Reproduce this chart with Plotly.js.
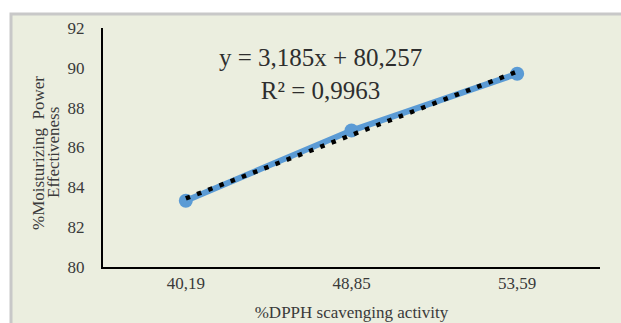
<!DOCTYPE html>
<html>
<head>
<meta charset="utf-8">
<script src="https://cdn.plot.ly/plotly-3.0.1.min.js"></script>
<style>html,body{margin:0;padding:0;background:#fff;}#chart{width:621px;height:323px;}</style>
</head>
<body>
<div id="chart"></div>
<script>
// Data
const categories = ["40,19", "48,85", "53,59"];
const moisturizing = [83.33, 86.85, 89.70];
const trendSlope = 3.185;
const trendIntercept = 80.257;
const trendR2 = 0.9963;
const yTicks = [80, 82, 84, 86, 88, 90, 92];

const fmt = (v, d) => v.toFixed(d).replace('.', ',');
const trendY = categories.map((c, i) => trendSlope * (i + 1) + trendIntercept);

const serif = "'Liberation Serif', 'Times New Roman', serif";
const L = 103, R = 600, T = 28, B = 267, W = 621, H = 323;
const pw = R - L, ph = B - T;
const px = x => (x - L) / pw;
const py = y => (B - y) / ph;

const traces = [
  {
    x: categories, y: moisturizing, type: 'scatter', mode: 'lines+markers',
    line: {color: '#5B9BD5', width: 6},
    marker: {color: '#5B9BD5', size: 14},
    hoverinfo: 'x+y', showlegend: false
  },
  {
    x: categories, y: trendY, type: 'scatter', mode: 'lines',
    line: {color: '#000000', width: 4.5, dash: '4.5px,7.5px'},
    hoverinfo: 'skip', showlegend: false
  }
];

const layout = {
  width: W, height: H,
  margin: {l: L, r: W - R, t: T, b: H - B, pad: 0},
  paper_bgcolor: '#FFFFFF',
  plot_bgcolor: 'rgba(0,0,0,0)',
  font: {family: serif, color: '#3A3A3A', size: 17},
  showlegend: false,
  xaxis: {
    type: 'category', range: [-0.5, 2.5],
    showgrid: false, zeroline: false,
    showline: true, linecolor: '#000000', linewidth: 2,
    ticks: '', ticklabelstandoff: 0,
    tickfont: {family: serif, size: 17, color: '#3A3A3A'},
    title: {text: '%DPPH scavenging activity', font: {family: serif, size: 17, color: '#3A3A3A'}, standoff: 14}
  },
  yaxis: {
    range: [80, 92], tickvals: yTicks, ticktext: yTicks.map(String),
    showgrid: false, zeroline: false,
    showline: true, linecolor: '#000000', linewidth: 2,
    ticks: '', ticklabelstandoff: 13,
    tickfont: {family: serif, size: 17, color: '#3A3A3A'}
  },
  shapes: [
    {type: 'rect', xref: 'paper', yref: 'paper', layer: 'below',
     x0: px(11), x1: 1.2, y0: -0.5, y1: py(14),
     fillcolor: '#EBEEDF', line: {color: '#C8C8C8', width: 3}}
  ],
  annotations: [
    {xref: 'paper', yref: 'paper', x: px(38), y: py(153), textangle: -90,
     text: '%Moisturizing&nbsp; Power', showarrow: false,
     font: {family: serif, size: 17, color: '#3A3A3A'}, xanchor: 'center', yanchor: 'middle'},
    {xref: 'paper', yref: 'paper', x: px(53), y: py(153), textangle: -90,
     text: 'Effectiveness', showarrow: false,
     font: {family: serif, size: 17, color: '#3A3A3A'}, xanchor: 'center', yanchor: 'middle'},
    {xref: 'paper', yref: 'paper', x: px(320), y: py(73.5),
     text: 'y = ' + fmt(trendSlope, 3) + 'x + ' + fmt(trendIntercept, 3) + '<br>R² = ' + fmt(trendR2, 4),
     showarrow: false, align: 'center',
     font: {family: serif, size: 25, color: '#2E2E2E'}, xanchor: 'center', yanchor: 'middle'}
  ]
};

Plotly.newPlot('chart', traces, layout, {displayModeBar: false, staticPlot: true});
</script>
</body>
</html>
